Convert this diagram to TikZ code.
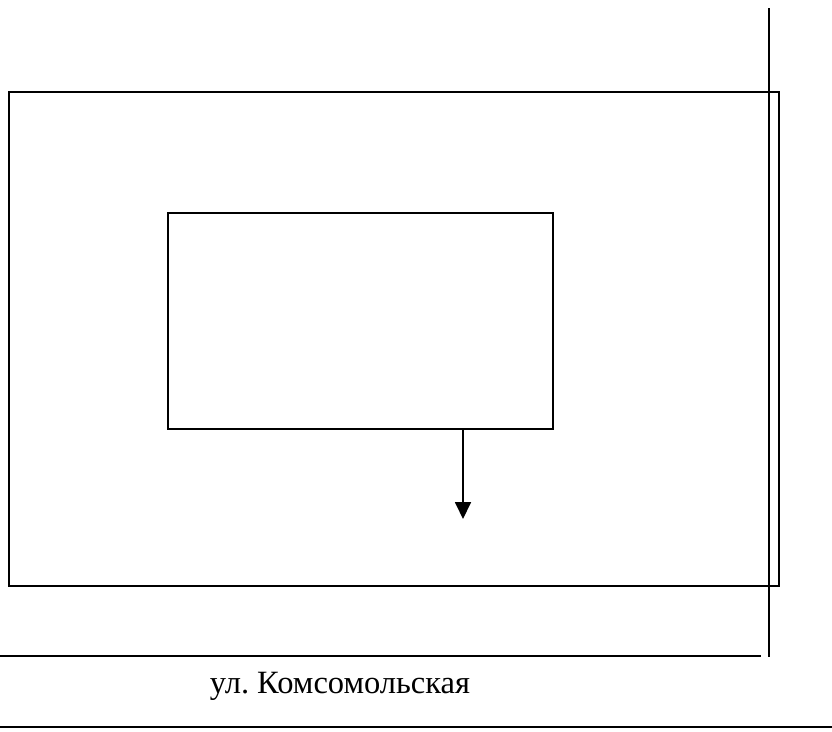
\documentclass[tikz,border=0pt]{standalone}
\usepackage{fontspec}
\setmainfont{Liberation Serif}
\usetikzlibrary{arrows.meta}

\begin{document}
\begin{tikzpicture}[x=1pt,y=-1pt]
\tikzset{plan box/.style = {draw, line width=2.3pt, inner sep=0pt},
         road/.style = {line width=2.3pt},
         exit arrow/.style = {line width=1.8pt, -{Triangle[width=16pt,length=17pt]}}}
\useasboundingbox (0,0) rectangle (832,731);
% territory and building
\node[plan box, minimum width=770pt, minimum height=494pt] (plot) at (394,339) {};
\node[plan box, minimum width=384.7pt, minimum height=216.3pt] (building) at (360.3,321) {};
\coordinate (entrance) at (463,519);
\draw[exit arrow] (building.south -| entrance) -- (entrance);
% roads
\draw[road] (769,8) -- (769,657);
\draw[road] (0,656) -- (761,656);
\draw[road] (0,727) -- (832,727);
\node[anchor=base, inner sep=0pt] (street) at (340,693) {\fontsize{32.5}{38}\selectfont ул.~Комсомольская};
\end{tikzpicture}
\end{document}
